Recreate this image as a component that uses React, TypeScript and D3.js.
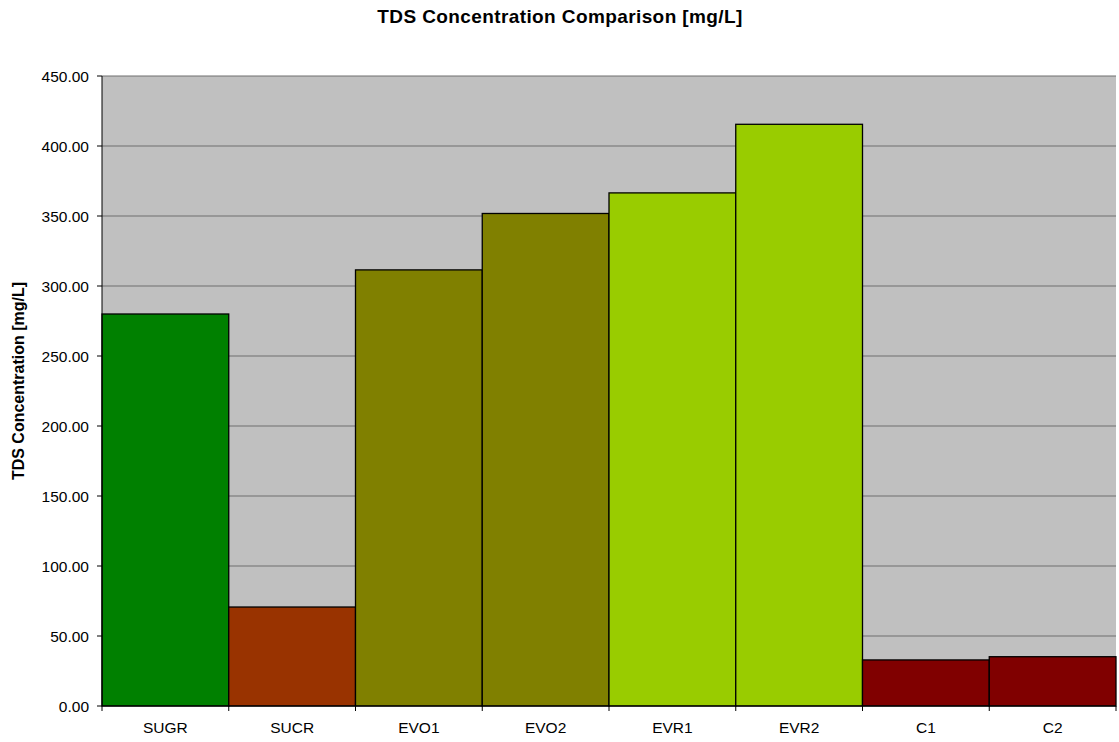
import React from "react";
import * as d3 from "d3";

const categories = ["SUGR", "SUCR", "EVO1", "EVO2", "EVR1", "EVR2", "C1", "C2"];
const values = [280.0, 70.7, 311.5, 351.8, 366.5, 415.5, 32.9, 35.2];
const colors = ["#008000", "#993300", "#808000", "#808000", "#99CC00", "#99CC00", "#800000", "#800000"];
const yTicks = [0, 50, 100, 150, 200, 250, 300, 350, 400, 450];

const W = 1119, H = 742;
const L = 102, R = 1116, T = 76, B = 706;

export default function App() {
  const x = d3.scaleBand<string>().domain(categories).range([L, R]).padding(0);
  const y = d3.scaleLinear().domain([0, 450]).range([B, T]);
  const font = "'Liberation Sans', Arial, sans-serif";
  return (
    <svg width={W} height={H} style={{ position: "absolute", left: 0, top: 0 }} fontFamily={font}>
      <rect x={0} y={0} width={W} height={H} fill="#fff" />
      <rect x={L} y={T} width={R - L} height={B - T} fill="#C0C0C0" />
      {yTicks.map((t) => (
        <g key={t}>
          {t > 0 && <line x1={L} x2={R} y1={y(t)} y2={y(t)} stroke="#6e6e6e" strokeWidth={1} />}
          <line x1={L - 5} x2={L} y1={y(t)} y2={y(t)} stroke="#000" />
          <text x={L - 13} y={y(t)} dy="0.36em" textAnchor="end" fontSize={15.5} fill="#000">
            {t.toFixed(2)}
          </text>
        </g>
      ))}
      {categories.map((c, i) => (
        <rect key={c} x={x(c)!} y={y(values[i])} width={x.bandwidth()} height={B - y(values[i])}
          fill={colors[i]} stroke="#000" strokeWidth={1.3} />
      ))}
      <line x1={L} x2={L} y1={T} y2={B} stroke="#000" />
      <line x1={L} x2={R} y1={B} y2={B} stroke="#000" />
      {categories.map((c) => (
        <line key={c + "t"} x1={x(c)!} x2={x(c)!} y1={B} y2={B + 5} stroke="#000" />
      ))}
      <line x1={R} x2={R} y1={B} y2={B + 5} stroke="#000" />
      {categories.map((c) => (
        <text key={c + "l"} x={x(c)! + x.bandwidth() / 2} y={B + 27} textAnchor="middle" fontSize={15.5} fill="#000">
          {c}
        </text>
      ))}
      <text x={560} y={23} textAnchor="middle" fontSize={19} fontWeight="bold" letterSpacing={0.4}>
        TDS Concentration Comparison [mg/L]
      </text>
      <text transform={`translate(24, 381) rotate(-90)`} textAnchor="middle" fontSize={16} fontWeight="bold">
        TDS Concentration [mg/L]
      </text>
    </svg>
  );
}
